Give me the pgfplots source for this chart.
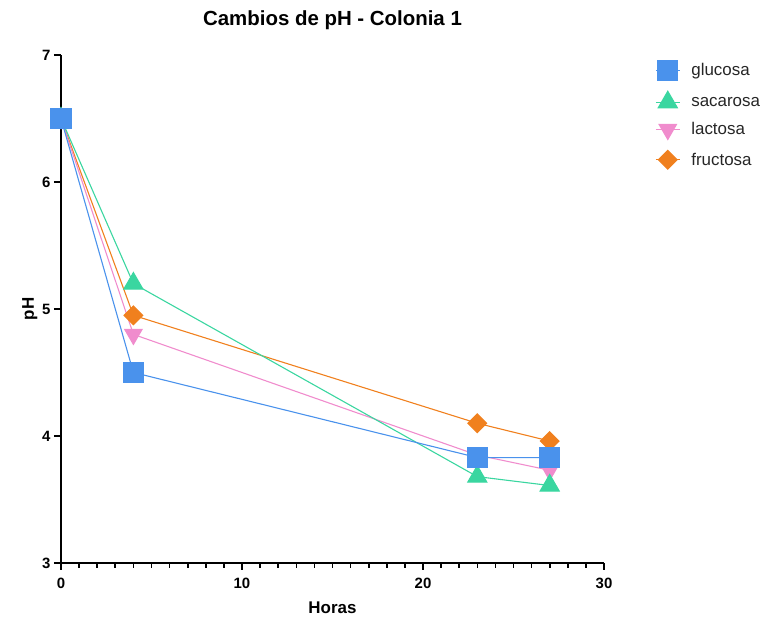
\documentclass[border=0pt]{standalone}
\usepackage{pgfplots}
\pgfplotsset{compat=1.18}
\usepackage{fontspec}
\setmainfont{Liberation Sans}
\usetikzlibrary{plotmarks}

\definecolor{cglu}{RGB}{74,146,236}
\definecolor{csac}{RGB}{58,214,160}
\definecolor{clac}{RGB}{240,140,205}
\definecolor{cfru}{RGB}{240,128,30}

\begin{document}
\begin{tikzpicture}
\begin{axis}[
  scale only axis,
  width=543bp, height=508bp,
  xmin=0, xmax=30, ymin=3, ymax=7,
  axis lines=left,
  axis line style={line width=2.2bp, -},
  xtick={0,10,20,30}, minor x tick num=9,
  ytick={3,4,5,6,7},
  tick align=outside,
  major tick length=7bp, minor tick length=5bp,
  every tick/.style={black, line width=1.6bp},
  tick label style={font=\fontsize{15}{17}\selectfont\bfseries},
  xticklabel style={yshift=-5bp},
  /pgf/number format/assume math mode=true,
  xlabel={Horas}, ylabel={pH},
  xlabel style={font=\fontsize{17}{19}\selectfont\bfseries, yshift=-6bp},
  ylabel style={font=\fontsize{17}{19}\selectfont\bfseries, yshift=-2bp},
  title={Cambios de pH - Colonia 1},
  title style={font=\fontsize{20.5}{23}\selectfont\bfseries, yshift=16bp},
  clip=false,
  legend cell align=left,
  legend style={draw=none, fill=none, inner sep=0pt, at={(rel axis cs:1.094,0.99)}, anchor=north west,
    font=\fontsize{17}{19}\selectfont, row sep=11bp, text=black!85,
    /tikz/every odd column/.append style={column sep=9bp}},
  legend image code/.code={\draw[mark repeat=2,mark phase=2] plot coordinates {(0bp,0bp)(12bp,0bp)(24bp,0bp)};},
  every axis plot/.append style={line width=1.1bp},
]
\coordinate (ll) at (rel axis cs:0,0);
\coordinate (ur) at (rel axis cs:1,1);

\addplot[cfru, mark=square*, mark size=6.6bp, mark options={fill=cfru, draw=cfru, rotate=45}, forget plot]
  coordinates {(0,6.5) (4,4.95) (23,4.10) (27,3.96)};
\addplot[clac, mark=triangle*, mark size=10bp, mark options={fill=clac, draw=clac, rotate=180}, forget plot]
  coordinates {(0,6.5) (4,4.80) (23,3.85) (27,3.73)};
\addplot[csac, mark=triangle*, mark size=11bp, mark options={fill=csac, draw=csac}, forget plot]
  coordinates {(0,6.5) (4,5.20) (23,3.68) (27,3.61)};
\addplot[cglu, mark=square*, mark size=10bp, mark options={fill=cglu, draw=cglu}, forget plot]
  coordinates {(0,6.5) (4,4.50) (23,3.83) (27,3.83)};

% legend entries in the listed order
\addlegendimage{cglu, line width=1.1bp, mark=square*, mark size=10bp, mark options={fill=cglu, draw=cglu}}
\addlegendentry{glucosa}
\addlegendimage{csac, line width=1.1bp, mark=triangle*, mark size=11bp, mark options={fill=csac, draw=csac}}
\addlegendentry{sacarosa}
\addlegendimage{clac, line width=1.1bp, mark=triangle*, mark size=10bp, mark options={fill=clac, draw=clac, rotate=180}}
\addlegendentry{lactosa}
\addlegendimage{cfru, line width=1.1bp, mark=square*, mark size=6.6bp, mark options={fill=cfru, draw=cfru, rotate=45}}
\addlegendentry{fructosa}
\end{axis}
\pgfresetboundingbox
\useasboundingbox ([shift={(-61bp,-58bp)}]ll) rectangle ([shift={(164bp,55bp)}]ur);
\end{tikzpicture}
\end{document}
